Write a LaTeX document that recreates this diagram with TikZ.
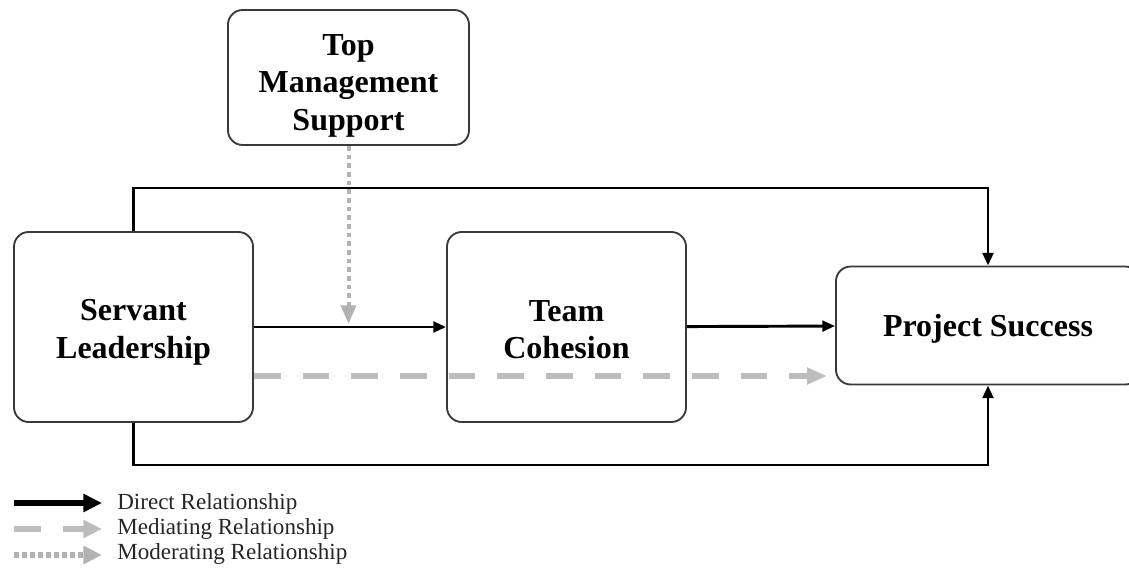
\documentclass[tikz,border=0pt]{standalone}
\usepackage{fontspec}
\setmainfont{Liberation Serif}
\usetikzlibrary{arrows.meta,positioning}
\definecolor{boxline}{HTML}{3A3A3A}
\definecolor{medgray}{HTML}{BDBDBD}
\definecolor{modgray}{HTML}{B2B2B2}
\newcommand{\boxlines}[2]{\raisebox{#1}[0pt][0pt]{\begin{tabular}{@{}c@{}}#2\end{tabular}}}
\tikzset{box/.style={draw=boxline,line width=1.4pt,rounded corners=11pt,fill=white,align=center,font=\bfseries\fontsize{24}{28}\selectfont}}
\tikzset{direct/.style={-{Triangle[length=9.5pt,width=8pt]},line width=2.2pt,black}}
\tikzset{mediate/.style={-{Triangle[length=15pt,width=12pt]},line width=3.8pt,medgray,dash pattern=on 20pt off 16.5pt}}
\tikzset{moderate/.style={-{Triangle[length=14pt,width=11pt]},line width=3pt,modgray,dash pattern=on 3.5pt off 3pt}}
\tikzset{legendtext/.style={anchor=west,inner sep=0pt,text=black!85,font=\fontsize{17.3}{20}\selectfont}}

\begin{document}
\begin{tikzpicture}[x=0.75pt,y=-0.75pt]
        \useasboundingbox (0,0) rectangle (1129,571);

        \node[box,minimum width=180.75pt,minimum height=101.25pt] (tms) at (348.5,77.5) {\boxlines{-12pt}{Top\\Management\\Support}};
        \node[box,minimum width=179.25pt,minimum height=142.5pt] (sl) at (133.5,327) {\boxlines{-10pt}{Servant\\Leadership}};
        \node[box,minimum width=179.25pt,minimum height=142.5pt] (tc) at (566.5,327) {\boxlines{-10.5pt}{Team\\Cohesion}};
        \node[box,minimum width=228pt,minimum height=88.5pt] (ps) at (988,325.5) {\boxlines{-9pt}{Project Success}};

        \coordinate (topbend) at (133.5,188);
        \coordinate (botbend) at (133.5,465);
        \coordinate (medend) at (827,376);
        \coordinate (modend) at (0,324);

        \draw[direct] (sl.north) -- (topbend) -| (ps.north);
        \draw[direct] (sl.south) -- (botbend) -| (ps.south);
        \draw[direct] (sl) -- (tc);
        \draw[direct] (tc) -- (ps);
        \draw[mediate] (sl.east |- medend) -- (medend);
        \draw[moderate] (tms.south) -- (tms.south |- modend);

        % legend
        \coordinate (dirA) at (14,503);
        \coordinate (dirB) at (102,503);
        \coordinate (medA) at (14,529);
        \coordinate (medB) at (102,529);
        \coordinate (modA) at (14,555);
        \coordinate (modB) at (102,555);
        \draw[-{Triangle[length=14pt,width=13pt]},line width=3.8pt] (dirA) -- (dirB);
        \draw[-{Triangle[length=14pt,width=13pt]},line width=3.8pt,medgray,dash pattern=on 20pt off 17pt] (medA) -- (medB);
        \draw[-{Triangle[length=14pt,width=13pt]},line width=3.8pt,modgray,dash pattern=on 4pt off 2pt] (modA) -- (modB);
        \node[legendtext] (dirlabel) at (117,504) {Direct Relationship};
        \node[legendtext] (medlabel) at (117,529) {Mediating Relationship};
        \node[legendtext] (modlabel) at (117,554) {Moderating Relationship};
    \end{tikzpicture}
\end{document}
